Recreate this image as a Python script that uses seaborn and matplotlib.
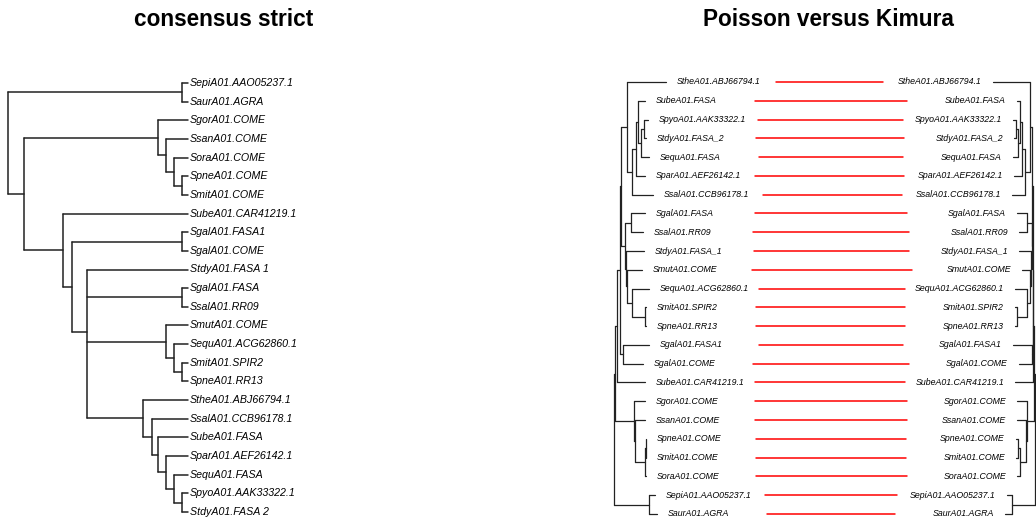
import matplotlib
matplotlib.use("Agg")
import matplotlib.pyplot as plt
import seaborn as sns
import pandas as pd

# trees (branch lengths in plot units, tips listed top to bottom)
consensus_newick = """
((SepiA01.AAO05237.1:6,SaurA01.AGRA:6):174,
 ((SgorA01.COME:30,(SsanA01.COME:22,(SoraA01.COME:14,(SpneA01.COME:6,SmitA01.COME:6):8):8):8):134,
  (SubeA01.CAR41219.1:125,
   ((SgalA01.FASA1:6,SgalA01.COME:6):110,
    (StdyA01.FASA_1:101,
     (SgalA01.FASA:6,SsalA01.RR09:6):95,
     (SmutA01.COME:22,(SequA01.ACG62860.1:14,(SmitA01.SPIR2:6,SpneA01.RR13:6):8):8):79,
     (StheA01.ABJ66794.1:45,(SsalA01.CCB96178.1:36,(SubeA01.FASA:30,(SparA01.AEF26142.1:22,
       (SequA01.FASA:14,(SpyoA01.AAK33322.1:6,StdyA01.FASA_2:6):8):8):8):6):9):56
    ):15
   ):9
  ):39
 ):16
);
"""

poisson_newick = """
((((((StheA01.ABJ66794.1:39,
       (((SubeA01.FASA:7,((SpyoA01.AAK33322.1:4,StdyA01.FASA_2:2):3,SequA01.FASA:8):3):2,
         SparA01.AEF26142.1:9):4,SsalA01.CCB96178.1:21):5):6,
      ((SgalA01.FASA:14,SsalA01.RR09:12):6,
       (StdyA01.FASA_1:18,(SmutA01.COME:15,(SequA01.ACG62860.1:17,
         (SmitA01.SPIR2:1,SpneA01.RR13:1):13):5):1):1):4):1,
     (SgalA01.FASA1:26,SgalA01.COME:20):3):3,
    SubeA01.CAR41219.1:28):2,
   (SgorA01.COME:11,(SsanA01.COME:10,((SpneA01.COME:0.5,SmitA01.COME:0.5):0.5,SoraA01.COME:1):10):1):19):1,
 (SepiA01.AAO05237.1:6,SaurA01.AGRA:8):35);
"""

kimura_newick = """
((((((StheA01.ABJ66794.1:37,
       (((SubeA01.FASA:3,((SpyoA01.AAK33322.1:3,StdyA01.FASA_2:2):2,SequA01.FASA:5):2):2,
         SparA01.AEF26142.1:8):3,SsalA01.CCB96178.1:13):5):2,
      ((SgalA01.FASA:10,SsalA01.RR09:8):4.5,
       (StdyA01.FASA_1:12,(SmutA01.COME:8,(SequA01.ACG62860.1:12,
         (SmitA01.SPIR2:2,SpneA01.RR13:2):10):3):1):0.5):0.5):0.5,
     (SgalA01.FASA1:19,SgalA01.COME:13):0.5):0.5,
    SubeA01.CAR41219.1:18):1,
   (SgorA01.COME:10,(SsanA01.COME:9,((SpneA01.COME:2,SmitA01.COME:2):2,SoraA01.COME:3):6):1):7):1,
 (SepiA01.AAO05237.1:5,SaurA01.AGRA:7):23);
"""

titles = ["consensus strict", "Poisson versus Kimura"]


def parse_newick(text):
    s = "".join(text.split()).rstrip(";")
    pos = 0

    def read():
        nonlocal pos
        kids = []
        if s[pos] == "(":
            pos += 1
            while True:
                kids.append(read())
                if s[pos] == ",":
                    pos += 1
                    continue
                pos += 1  # ')'
                break
        start = pos
        while pos < len(s) and s[pos] not in ":,)":
            pos += 1
        name = s[start:pos]
        length = 0.0
        if pos < len(s) and s[pos] == ":":
            pos += 1
            start = pos
            while pos < len(s) and s[pos] not in ",)":
                pos += 1
            length = float(s[start:pos])
        return {"name": name, "len": length, "kids": kids}

    return read()


def layout(tree):
    """ape-like rectangular layout: node depth from root, node row = mean of children rows"""
    tips, segs = [], []

    def walk(node, depth):
        x = depth + node["len"]
        if not node["kids"]:
            node["y"] = len(tips)
            tips.append((node["name"], x, node["y"]))
        else:
            for k in node["kids"]:
                walk(k, x)
            ys = [k["y"] for k in node["kids"]]
            node["y"] = sum(ys) / len(ys)
            segs.append(((x, min(ys)), (x, max(ys))))
        if node["len"] > 0:
            segs.append(((depth, node["y"]), (x, node["y"])))

    walk(tree, 0.0)
    return tips, segs


def seg_frame(segs, xmap):
    rows = []
    for i, ((x0, y0), (x1, y1)) in enumerate(segs):
        rows.append({"seg": i, "x": xmap(x0), "y": y0})
        rows.append({"seg": i, "x": xmap(x1), "y": y1})
    return pd.DataFrame(rows)


sns.set_theme(style="white")
plt.rcParams["font.family"] = ["Liberation Sans", "DejaVu Sans"]

W, H = 1036, 519
fig = plt.figure(figsize=(W / 100, H / 100), dpi=100)
axL = fig.add_axes([0, 0, 0.5, 1])
axR = fig.add_axes([0.5, 0, 0.5, 1])
for ax in (axL, axR):
    ax.set_axis_off()

# ---- left panel: strict consensus cladogram
row0, step = 83, 18.65
axL.set_xlim(-8, 510)
axL.set_ylim((H - row0) / step, -row0 / step)

tips, segs = layout(parse_newick(consensus_newick))
df = seg_frame(segs, lambda x: x)
sns.lineplot(data=df, x="x", y="y", units="seg", estimator=None, sort=False,
             color="#222222", lw=1.1, legend=False, ax=axL)
for name, x, y in tips:
    axL.text(x + 2, y, name.replace("_", " "), ha="left", va="center",
             fontsize=7.7, style="italic", color="black")
axL.text(224 / 518, 1 - 26 / H, titles[0], transform=axL.transAxes,
         ha="center", va="baseline", fontsize=16.3, fontweight="bold", color="black")
axL.set_xlabel("")
axL.set_ylabel("")

# ---- right panel: cophylo Poisson (left) vs Kimura (right)
row0r, stepr = 82, 18.78
axR.set_xlim(0, 518)
axR.set_ylim((H - row0r) / stepr, -row0r / stepr)
rootL, rootR, offset = 96, 517, 11

tipsP, segsP = layout(parse_newick(poisson_newick))
tipsK, segsK = layout(parse_newick(kimura_newick))

dfP = seg_frame(segsP, lambda d: rootL + d)
dfK = seg_frame(segsK, lambda d: rootR - d)
for d in (dfP, dfK):
    sns.lineplot(data=d, x="x", y="y", units="seg", estimator=None, sort=False,
                 color="#222222", lw=0.9, legend=False, ax=axR)

txts = []
for name, d, y in tipsP:
    txts.append(axR.text(rootL + d + offset, y, name, ha="left", va="center",
                         fontsize=6.3, style="italic", color="black"))
for name, d, y in tipsK:
    txts.append(axR.text(rootR - d - offset, y, name, ha="right", va="center",
                         fontsize=6.3, style="italic", color="black"))

# links start/end after the widest label, like phytools::cophylo
fig.canvas.draw()
rend = fig.canvas.get_renderer()
maxw = max(t.get_window_extent(rend).width for t in txts)  # 1 data unit = 1 px here
reach = offset + maxw + 10

posK = {name: (d, y) for name, d, y in tipsK}
link_rows = []
for i, (name, d, y) in enumerate(tipsP):
    dk, yk = posK[name]
    link_rows.append({"link": i, "x": rootL + d + reach, "y": y})
    link_rows.append({"link": i, "x": rootR - dk - reach, "y": yk})
links = pd.DataFrame(link_rows)
sns.lineplot(data=links, x="x", y="y", units="link", estimator=None, sort=False,
             color="red", lw=1.1, legend=False, ax=axR)
axR.text((828 - 518) / 518, 1 - 26 / H, titles[1], transform=axR.transAxes,
         ha="center", va="baseline", fontsize=16.3, fontweight="bold", color="black")
axR.set_xlabel("")
axR.set_ylabel("")

fig.savefig("out.png", dpi=100)
